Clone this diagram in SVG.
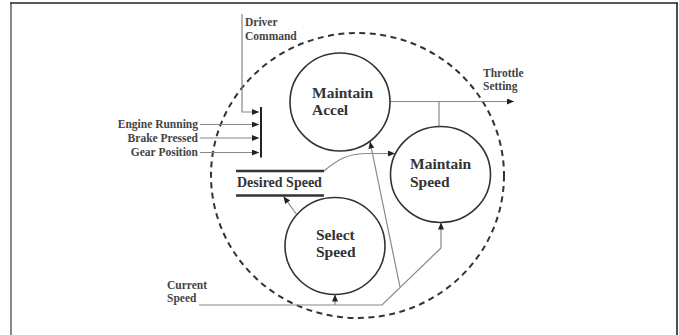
<svg xmlns="http://www.w3.org/2000/svg" width="679" height="335" viewBox="0 0 679 335">
<style>
.bg{fill:#fff}
.node{fill:none;stroke:#333;stroke-width:1.6}
.lbl{font-family:"Liberation Serif","Times New Roman",serif;font-weight:bold;font-size:15.5px;fill:#333}
.sm{font-family:"Liberation Serif","Times New Roman",serif;font-weight:bold;font-size:11.5px;fill:#444}
.con{fill:none;stroke:#888;stroke-width:1.2}
.arr{marker-end:url(#ah)}
.bound{fill:none;stroke:#333;stroke-width:2;stroke-dasharray:6 4.5}
.store{stroke:#333;stroke-width:2.6}
</style>
<defs>
<marker id="ah" markerWidth="7" markerHeight="6" refX="7" refY="3" orient="auto" markerUnits="userSpaceOnUse">
<path d="M0,0 L7,3 L0,6 z" fill="#222"/>
</marker>
</defs>
<rect class="bg" x="0" y="0" width="679" height="335"/>
<g id="frame">
<line x1="11" y1="3" x2="11" y2="335" stroke="#888" stroke-width="2"/>
<line x1="10" y1="3" x2="678" y2="3" stroke="#222" stroke-width="1.6"/>
<line x1="677" y1="3" x2="677" y2="335" stroke="#222" stroke-width="1.6"/>
</g>
<g id="boundary">
<ellipse class="bound" cx="357.5" cy="175.5" rx="146.5" ry="142.5"/>
</g>
<g id="connectors">
<!-- Driver Command -->
<polyline class="con arr" points="242,14 242,112 259,112"/>
<line class="con arr" x1="200" y1="124.5" x2="259" y2="124.5"/>
<line class="con arr" x1="200" y1="138" x2="259" y2="138" stroke="#aaa"/>
<line class="con arr" x1="200" y1="152.5" x2="259" y2="152.5"/>
<line x1="261" y1="107" x2="261" y2="157.5" stroke="#222" stroke-width="2"/>
<!-- Throttle -->
<line class="con arr" x1="390" y1="101.5" x2="514" y2="101.5"/>
<line class="con" x1="439" y1="101.5" x2="439" y2="126.5"/>
<!-- Desired Speed to Maintain Speed -->
<path class="con arr" d="M324,171 C338,159 348,153.5 368,153.5 L395,153.5"/>
<!-- Select Speed to Desired Speed -->
<line class="con arr" x1="297" y1="215" x2="283.5" y2="196.5"/>
<!-- Current Speed -->
<polyline class="con" points="199,305 382,305 441,248"/>
<line class="con arr" x1="441" y1="248" x2="441" y2="222.5"/>
<line class="con arr" x1="335" y1="305" x2="335" y2="294.5"/>
<line class="con arr" x1="400" y1="287" x2="370" y2="141.5"/>
</g>
<g id="maintain-accel">
<ellipse class="node" cx="340" cy="102" rx="50" ry="49"/>
<text class="lbl" x="312" y="97.5">Maintain</text>
<text class="lbl" x="312" y="115">Accel</text>
</g>
<g id="maintain-speed">
<ellipse class="node" cx="440.5" cy="174.5" rx="50" ry="48"/>
<text class="lbl" x="410" y="169">Maintain</text>
<text class="lbl" x="410" y="187">Speed</text>
</g>
<g id="select-speed">
<ellipse class="node" cx="335" cy="246" rx="50" ry="48.5"/>
<text class="lbl" x="316" y="240">Select</text>
<text class="lbl" x="316" y="257">Speed</text>
</g>
<g id="desired-speed">
<line class="store" x1="236" y1="171" x2="324" y2="171"/>
<line class="store" x1="236" y1="195.5" x2="324" y2="195.5"/>
<text class="lbl" x="237" y="187" style="font-size:14px">Desired Speed</text>
</g>
<g id="labels">
<text class="sm" x="245" y="26">Driver</text>
<text class="sm" x="245" y="39.5">Command</text>
<text class="sm" x="198" y="128" text-anchor="end">Engine Running</text>
<text class="sm" x="198" y="142" text-anchor="end">Brake Pressed</text>
<text class="sm" x="198" y="156" text-anchor="end">Gear Position</text>
<text class="sm" x="483" y="76.5">Throttle</text>
<text class="sm" x="483" y="89.5">Setting</text>
<text class="sm" x="167" y="289">Current</text>
<text class="sm" x="167" y="302">Speed</text>
</g>
</svg>
